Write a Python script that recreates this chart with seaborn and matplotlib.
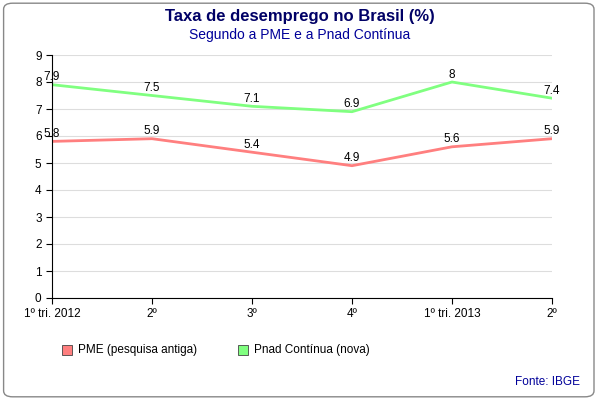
import matplotlib
matplotlib.use("Agg")
import matplotlib.pyplot as plt
import seaborn as sns
import pandas as pd
from matplotlib.patches import FancyBboxPatch

categories = ["1º tri. 2012", "2º", "3º", "4º", "1º tri. 2013", "2º"]
pme = [5.8, 5.9, 5.4, 4.9, 5.6, 5.9]
pnad = [7.9, 7.5, 7.1, 6.9, 8.0, 7.4]
pnad_labels = ["7.9", "7.5", "7.1", "6.9", "8", "7.4"]
pme_labels = ["5.8", "5.9", "5.4", "4.9", "5.6", "5.9"]

plt.rcParams["font.family"] = "Liberation Sans"
fig = plt.figure(figsize=(6, 4), dpi=100)
fig.patches.append(FancyBboxPatch((0.006, 0.008), 0.984, 0.984, boxstyle="round,pad=0,rounding_size=0.015",
                                  transform=fig.transFigure, fc="white", ec="#888888", lw=1, zorder=-10))
ax = fig.add_axes([52/600, 1-298/400, 500/600, 243/400], zorder=5)
ax.patch.set_alpha(0)
x = list(range(len(categories)))
df = pd.DataFrame({"x": x * 2, "y": pme + pnad,
                   "s": ["PME (pesquisa antiga)"] * 6 + ["Pnad Contínua (nova)"] * 6})
sns.lineplot(data=df, x="x", y="y", hue="s", palette=["#ff7f7f", "#80ff80"], lw=2, ax=ax, legend=False)
for xi, v, l in zip(x, pme, pme_labels):
    ax.text(xi, v + 0.05, l, ha="center", va="bottom", fontsize=8.5)
for xi, v, l in zip(x, pnad, pnad_labels):
    ax.text(xi, v + 0.05, l, ha="center", va="bottom", fontsize=8.5)
ax.set_xlim(0, 5); ax.set_ylim(0, 9)
ax.set_yticks(range(10)); ax.set_xticks(x); ax.set_xticklabels(categories)
ax.tick_params(labelsize=8.5, length=4, color="black")
ax.grid(axis="y", color="#dddddd", lw=0.8)
ax.set_axisbelow(True)
ax.set_xlabel(""); ax.set_ylabel("")
for s in ["top", "right"]:
    ax.spines[s].set_visible(False)
for s in ["left", "bottom"]:
    ax.spines[s].set_color("black"); ax.spines[s].set_linewidth(0.8)
fig.text(0.5, 1-17/400, "Taxa de desemprego no Brasil (%)", ha="center", va="center",
         fontsize=12, fontweight="bold", color="#000066")
fig.text(0.5, 1-35/400, "Segundo a PME e a Pnad Contínua", ha="center", va="center",
         fontsize=10, color="#000099")
for px, c, t in [(62, "#ff7f7f", "PME (pesquisa antiga)"), (238, "#80ff80", "Pnad Contínua (nova)")]:
    fig.patches.append(plt.Rectangle((px/600, 1-355/400), 10/600, 10/400, transform=fig.transFigure,
                                     fc=c, ec="#444444", lw=0.6))
    fig.text((px+16)/600, 1-350/400, t, va="center", fontsize=8.5)
fig.text(580/600, 1-382/400, "Fonte: IBGE", ha="right", va="center", fontsize=8.5, color="#000099")
fig.savefig("out.png", dpi=100)
